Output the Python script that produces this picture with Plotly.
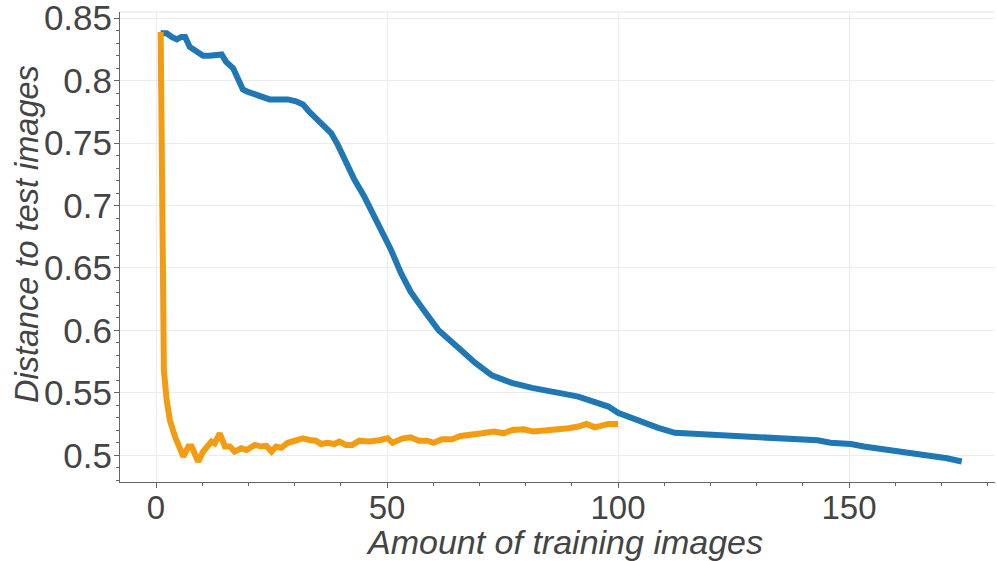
import plotly.graph_objects as go

# Distance curve for the full training run
blue_x = [1, 2.3, 3.4, 4.5, 5.5, 6.3, 7.3, 8.4, 9.5, 10.2, 11.6, 13.4, 14.2, 15.2, 16.7,
          17.8, 18.8, 19.9, 21.4, 23.1, 24.6, 26.7, 28.5, 30.3, 31.8, 33.2, 34.6, 36.4,
          37.9, 39.3, 41.1, 42.9, 45.1, 46.9, 48.7, 50.8, 53.0, 55.1, 57.6, 61.2, 65.5,
          69.1, 72.7, 77.0, 81.4, 85.0, 88.6, 91.4, 95.0, 97.9, 100.0, 102.9, 105.8,
          108.7, 112.3, 117.3, 120.9, 124.5, 129.5, 134.5, 138.9, 143.2, 146.0, 150.4,
          153.2, 157.5, 160.4, 164.0, 167.6, 171.2, 174.4]
blue_y = [0.838, 0.838, 0.835, 0.833, 0.835, 0.835, 0.827, 0.824, 0.822, 0.820, 0.820,
          0.8215, 0.821, 0.815, 0.810, 0.801, 0.793, 0.791, 0.789, 0.786, 0.785, 0.785,
          0.785, 0.7835, 0.781, 0.775, 0.770, 0.765, 0.758, 0.749, 0.734, 0.721, 0.707,
          0.694, 0.681, 0.665, 0.646, 0.631, 0.618, 0.600, 0.586, 0.574, 0.564, 0.558,
          0.554, 0.551, 0.549, 0.547, 0.542, 0.539, 0.534, 0.5296, 0.526, 0.522, 0.518,
          0.517, 0.5157, 0.515, 0.515, 0.514, 0.513, 0.512, 0.510, 0.509, 0.507, 0.505,
          0.503, 0.501, 0.4997, 0.4976, 0.495]

# Distance curve for the second run (100 images)
orange_x = [1, 1.7, 2.3, 3.0, 4.1, 5.9, 7.0, 7.7, 9.1, 10.2, 12.0, 12.7, 13.8, 14.9, 16.0,
            17.0, 18.5, 19.6, 21.4, 22.8, 23.9, 25.0, 26.0, 27.1, 28.5, 30.3, 31.8, 33.2,
            34.6, 35.7, 37.1, 38.6, 39.7, 41.1, 42.5, 44.0, 46.1, 48.3, 50.1, 51.2, 53.4,
            55.1, 56.9, 58.7, 60.1, 61.9, 64.1, 65.9, 68.4, 70.6, 73.1, 75.3, 77.1, 79.6,
            81.7, 84.2, 86.7, 89.3, 91.4, 93.2, 95.0, 96.5, 97.9, 100.0]
orange_y = [0.839, 0.568, 0.544, 0.528, 0.515, 0.499, 0.507, 0.507, 0.495, 0.503, 0.511,
            0.5096, 0.5176, 0.507, 0.507, 0.503, 0.5056, 0.5042, 0.5083, 0.507, 0.5075,
            0.503, 0.507, 0.506, 0.510, 0.5117, 0.5136, 0.5123, 0.5117, 0.509, 0.510,
            0.509, 0.511, 0.5083, 0.5083, 0.5117, 0.511, 0.512, 0.5136, 0.510, 0.5136,
            0.5144, 0.5117, 0.5117, 0.510, 0.5128, 0.5128, 0.5155, 0.5163, 0.5176, 0.519,
            0.5176, 0.5203, 0.5208, 0.519, 0.5197, 0.5208, 0.5216, 0.523, 0.5251, 0.5224,
            0.5235, 0.5251, 0.5251]

y_ticks = [0.5, 0.55, 0.6, 0.65, 0.7, 0.75, 0.8, 0.85]
y_labels = ["0.5", "0.55", "0.6", "0.65", "0.7", "0.75", "0.8", "0.85"]
x_ticks = [0, 50, 100, 150]
x_labels = ["0", "50", "100", "150"]
x_title = "Amount of training images"
y_title = "Distance to test images"

FONT = "Liberation Sans, Arial, sans-serif"
TXT = "#444444"

fig = go.Figure()
fig.add_trace(go.Scatter(x=blue_x, y=blue_y, mode="lines",
                         line=dict(color="#1f77b4", width=6), showlegend=False))
fig.add_trace(go.Scatter(x=orange_x, y=orange_y, mode="lines",
                         line=dict(color="#f39c12", width=6), showlegend=False))

fig.update_layout(
    width=997, height=561,
    margin=dict(l=120, r=2, t=12, b=79),
    paper_bgcolor="white", plot_bgcolor="white",
    font=dict(family=FONT, color=TXT),
    xaxis=dict(
        range=[-7.8, 181.6],
        automargin=False,
        tickvals=x_ticks, ticktext=x_labels,
        tickfont=dict(size=33, color=TXT),
        ticklabelstandoff=-9,
        ticklabeloverflow="allow",
        showgrid=True, gridcolor="#ececec", gridwidth=1,
        zeroline=False,
        showline=True, linecolor="#666666", linewidth=1,
        ticks="outside", ticklen=5, tickcolor="#666666",
        minor=dict(dtick=10, tick0=0, ticks="outside", ticklen=3,
                   tickcolor="#666666", showgrid=False),
    ),
    yaxis=dict(
        range=[0.4786, 0.855],
        automargin=False,
        tickvals=y_ticks, ticktext=y_labels,
        tickfont=dict(size=35, color=TXT),
        ticklabelstandoff=-5,
        ticklabeloverflow="allow",
        showgrid=True, gridcolor="#ececec", gridwidth=1,
        zeroline=False,
        showline=True, linecolor="#666666", linewidth=1,
        ticks="outside", ticklen=5, tickcolor="#666666",
        minor=dict(dtick=0.01, tick0=0.5, ticks="outside", ticklen=3,
                   tickcolor="#666666", showgrid=False),
    ),
    shapes=[dict(type="line", xref="paper", yref="paper", x0=0, x1=1, y0=1, y1=1,
                 line=dict(color="#e6e6e6", width=1))],
    annotations=[
        dict(text="<i>" + x_title + "</i>", xref="paper", yref="paper",
             x=0.5, y=0, xanchor="center", yanchor="middle",
             xshift=7, yshift=-60, showarrow=False,
             font=dict(size=34, color=TXT)),
        dict(text="<i>" + y_title + "</i>", xref="paper", yref="paper",
             x=0, y=0.5, xanchor="center", yanchor="middle", textangle=-90,
             xshift=-93, yshift=13, showarrow=False,
             font=dict(size=32.5, color=TXT)),
    ],
)

fig.write_html("out.html")
